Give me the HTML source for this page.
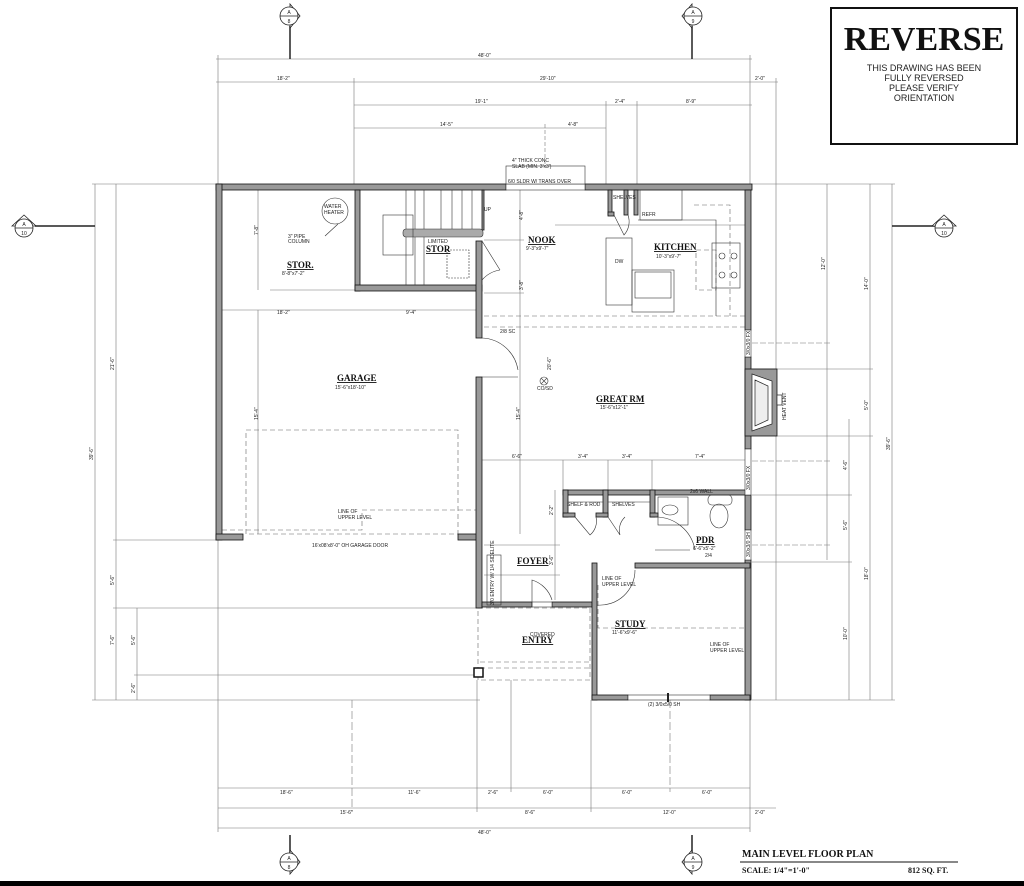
<!DOCTYPE html>
<html><head><meta charset="utf-8"><style>
html,body{margin:0;padding:0;background:#fff}
svg{display:block}
text{font-family:"Liberation Sans",sans-serif;fill:#222}
.d{font-size:5px}
.t{font-family:"Liberation Serif",serif;font-weight:bold;text-decoration:underline;font-size:9px;fill:#111}
.s{font-size:5px}
</style></head><body>
<svg width="1024" height="886" viewBox="0 0 1024 886" xmlns="http://www.w3.org/2000/svg">
<g stroke="#777" stroke-width="0.6" fill="none">
<!-- top dim lines -->
<line x1="216" y1="59" x2="752" y2="59"/>
<line x1="216" y1="82" x2="752" y2="82"/><line x1="752" y1="82" x2="778" y2="82"/>
<line x1="354" y1="105" x2="752" y2="105"/>
<line x1="354" y1="128" x2="606" y2="128"/>
<line x1="218" y1="55" x2="218" y2="184"/>
<line x1="354" y1="78" x2="354" y2="184"/>
<line x1="606" y1="101" x2="606" y2="184"/>
<line x1="637" y1="101" x2="637" y2="184"/>
<line x1="750" y1="55" x2="750" y2="184"/>
<line x1="776" y1="78" x2="776" y2="700"/>
<line x1="545" y1="124" x2="545" y2="184" stroke-dasharray="4,2"/>
<!-- left dims -->
<line x1="95" y1="184" x2="95" y2="700"/>
<line x1="116" y1="184" x2="116" y2="700"/>
<line x1="137" y1="608" x2="137" y2="700"/>
<line x1="92" y1="184" x2="216" y2="184"/>
<line x1="113" y1="540" x2="216" y2="540"/>
<line x1="113" y1="608" x2="480" y2="608"/>
<line x1="134" y1="675" x2="480" y2="675"/>
<line x1="92" y1="700" x2="480" y2="700"/>
<!-- right dims -->
<line x1="827" y1="184" x2="827" y2="560"/>
<line x1="849" y1="419" x2="849" y2="700"/>
<line x1="870" y1="184" x2="870" y2="700"/>
<line x1="892" y1="184" x2="892" y2="700"/>
<line x1="752" y1="184" x2="895" y2="184"/>
<line x1="752" y1="369" x2="873" y2="369"/>
<line x1="777" y1="436" x2="873" y2="436"/>
<line x1="752" y1="495" x2="852" y2="495"/>
<line x1="752" y1="562" x2="852" y2="562"/>
<line x1="752" y1="700" x2="895" y2="700"/>
<line x1="752" y1="343" x2="830" y2="343" stroke-dasharray="6,2"/>
<line x1="752" y1="461" x2="830" y2="461" stroke-dasharray="6,2"/>
<line x1="752" y1="545" x2="830" y2="545" stroke-dasharray="6,2"/>
<!-- bottom dims -->
<line x1="218" y1="788" x2="750" y2="788"/>
<line x1="218" y1="808" x2="750" y2="808"/><line x1="750" y1="808" x2="776" y2="808"/>
<line x1="218" y1="828" x2="750" y2="828"/>
<line x1="218" y1="540" x2="218" y2="832"/>
<line x1="352" y1="700" x2="352" y2="812" stroke-dasharray="8,3"/>
<line x1="477" y1="680" x2="477" y2="812"/>
<line x1="511" y1="680" x2="511" y2="792"/>
<line x1="591" y1="700" x2="591" y2="812"/>
<line x1="670" y1="700" x2="670" y2="792" stroke-dasharray="8,3"/>
<line x1="750" y1="700" x2="750" y2="832"/>
<!-- interior dims -->
<line x1="222" y1="310" x2="478" y2="310"/>
<line x1="270" y1="290" x2="355" y2="290"/>
<line x1="258" y1="190" x2="258" y2="290"/>
<line x1="258" y1="310" x2="258" y2="534"/>
<line x1="520" y1="190" x2="520" y2="534"/>
<line x1="484" y1="240" x2="524" y2="240"/>
<line x1="484" y1="293" x2="524" y2="293"/>
<line x1="555" y1="225" x2="745" y2="225"/>
<line x1="480" y1="460" x2="745" y2="460"/>
<line x1="563" y1="460" x2="563" y2="490"/><line x1="608" y1="460" x2="608" y2="490"/><line x1="652" y1="460" x2="652" y2="490"/>
<line x1="555" y1="490" x2="555" y2="600"/>
<line x1="484" y1="545" x2="560" y2="545"/>
<line x1="484" y1="575" x2="560" y2="575"/>
</g>
<!-- dashed upper level lines -->
<g stroke="#666" stroke-width="0.6" fill="none" stroke-dasharray="5,3">
<rect x="246" y="430" width="212" height="104"/>
<polyline points="222,530 362,530 362,510 476,510"/>
<line x1="484" y1="316" x2="745" y2="316"/>
<line x1="484" y1="327" x2="745" y2="327"/>
<polyline points="598,585 598,628 745,628"/>
<rect x="478" y="608" width="112" height="72"/>
<line x1="480" y1="662" x2="590" y2="662"/>
<line x1="480" y1="668" x2="590" y2="668"/>
<polyline points="694,205 730,205 730,316"/>
<rect x="696" y="250" width="20" height="40"/>
</g>
<!-- walls -->
<g fill="#999" stroke="#111" stroke-width="0.8">
<rect x="216" y="184" width="290" height="6"/>
<rect x="585" y="184" width="167" height="6"/>
<rect x="216" y="184" width="6" height="356"/>
<rect x="216" y="534" width="27" height="6"/>
<rect x="458" y="534" width="22" height="6"/>
<rect x="355" y="190" width="5" height="101"/>
<rect x="355" y="285" width="127" height="6"/>
<rect x="476" y="241" width="6" height="97"/>
<rect x="476" y="377" width="6" height="231"/>
<rect x="745" y="190" width="6" height="140"/>
<rect x="745" y="357" width="6" height="92"/>
<rect x="745" y="495" width="6" height="35"/>
<rect x="745" y="560" width="6" height="140"/>
<rect x="745" y="369" width="32" height="67"/>
<rect x="482" y="602" width="50" height="5"/>
<rect x="552" y="602" width="40" height="5"/>
<rect x="592" y="563" width="5" height="137"/>
<rect x="635" y="563" width="115" height="5"/>
<rect x="592" y="695" width="36" height="5"/>
<rect x="710" y="695" width="40" height="5"/>
<rect x="563" y="490" width="187" height="5"/>
<rect x="563" y="490" width="5" height="27"/>
<rect x="603" y="490" width="5" height="27"/>
<rect x="650" y="490" width="5" height="27"/>
<rect x="563" y="513" width="12" height="4"/>
<rect x="596" y="513" width="12" height="4"/>
<rect x="650" y="513" width="8" height="4"/>
<rect x="608" y="190" width="4" height="25"/>
<rect x="624" y="190" width="4" height="25"/>
<rect x="634" y="190" width="4" height="25"/>
<rect x="608" y="212" width="6" height="4"/>
<rect x="482" y="190" width="2" height="40"/>
</g>
<!-- fireplace -->
<g fill="#fff" stroke="#222" stroke-width="0.7">
<polygon points="752,374 772,381 772,424 752,431"/>
<polygon points="755,380 768,386 768,420 755,426" fill="#eee"/>
<rect x="777" y="395" width="5" height="10"/>
</g>
<!-- windows -->
<g fill="#fff" stroke="#333" stroke-width="0.6">
<rect x="745" y="330" width="6" height="27"/><rect x="745" y="449" width="6" height="46"/><rect x="745" y="530" width="6" height="30"/>
<rect x="628" y="695" width="82" height="5"/><rect x="532" y="602" width="20" height="5"/>
<rect x="506" y="184" width="79" height="6"/>
<rect x="506" y="166" width="79" height="18"/>
</g>
<line x1="668" y1="693" x2="668" y2="702" stroke="#222" stroke-width="2"/>
<!-- stairs -->
<g stroke="#333" stroke-width="0.6" fill="none">
<line x1="406" y1="190" x2="406" y2="285"/><line x1="415" y1="190" x2="415" y2="285"/><line x1="424" y1="190" x2="424" y2="285"/>
<line x1="441" y1="190" x2="441" y2="232"/><line x1="452" y1="190" x2="452" y2="232"/><line x1="462" y1="190" x2="462" y2="232"/><line x1="472" y1="190" x2="472" y2="232"/>
<rect x="403" y="229" width="80" height="8" rx="3" fill="#aaa"/>
<rect x="383" y="215" width="30" height="40"/>
<rect x="447" y="250" width="22" height="28" stroke-dasharray="2,1"/>
<path d="M482,241 L500,270 M500,270 A30,30 0 0 0 482,280"/>
<path d="M482,338 A38,38 0 0 1 518,370 M482,377 L518,377" />
<circle cx="335" cy="211" r="13"/>
<line x1="325" y1="236" x2="338" y2="224"/>
<circle cx="544" cy="381" r="4"/><path d="M541,378 L547,384 M547,378 L541,384"/>
<!-- kitchen -->
<rect x="640" y="190" width="42" height="30"/>
<polyline points="638,220 716,220 716,316"/>
<rect x="606" y="238" width="26" height="67"/>
<rect x="632" y="270" width="42" height="42"/>
<rect x="635" y="272" width="36" height="26"/>
<rect x="712" y="243" width="28" height="45"/>
<circle cx="722" cy="256" r="3"/><circle cx="734" cy="256" r="3"/><circle cx="722" cy="275" r="3"/><circle cx="734" cy="275" r="3"/>
<path d="M614,215 L624,235 A20,20 0 0 0 628,215"/>
<!-- PDR -->
<rect x="658" y="497" width="30" height="28"/>
<ellipse cx="670" cy="510" rx="8" ry="5"/>
<rect x="708" y="495" width="24" height="10" rx="4"/>
<ellipse cx="719" cy="516" rx="9" ry="12"/>
<line x1="568" y1="502" x2="603" y2="502"/><line x1="608" y1="502" x2="650" y2="502"/>
<path d="M575,517 L590,535 A18,18 0 0 0 596,517"/>
<path d="M608,517 L620,535 A18,18 0 0 1 625,517"/>
<path d="M655,517 A40,40 0 0 1 695,550 M655,550 L690,550"/>
<path d="M532,607 L532,580 A30,30 0 0 1 552,600" />
<path d="M597,570 L597,605 A35,35 0 0 0 635,570"/>
<rect x="487" y="555" width="14" height="50"/>
</g>
<rect x="474" y="668" width="9" height="9" fill="#fff" stroke="#111" stroke-width="1.5"/>
<!-- labels -->
<text class="t" x="287" y="268">STOR.</text><text class="s" x="282" y="275">8'-8"x7'-2"</text>
<text class="t" x="426" y="252">STOR</text><text class="s" x="428" y="243">LIMITED</text>
<text class="t" x="528" y="243">NOOK</text><text class="s" x="526" y="250">9'-3"x9'-7"</text>
<text class="t" x="654" y="250">KITCHEN</text><text class="s" x="656" y="258">10'-3"x9'-7"</text>
<text class="t" x="337" y="381">GARAGE</text><text class="s" x="335" y="389">15'-6"x18'-10"</text>
<text class="t" x="596" y="402">GREAT RM</text><text class="s" x="600" y="409">15'-6"x12'-1"</text>
<text class="t" x="696" y="543">PDR</text><text class="s" x="693" y="550">6'-6"x5'-2"</text>
<text class="t" x="517" y="564">FOYER</text>
<text class="t" x="522" y="643">ENTRY</text><text class="s" x="530" y="636">COVERED</text>
<text class="t" x="615" y="627">STUDY</text><text class="s" x="612" y="634">11'-6"x9'-6"</text>
<text class="s" x="324" y="208">WATER</text><text class="s" x="324" y="214">HEATER</text>
<text class="s" x="288" y="238">3" PIPE</text><text class="s" x="288" y="243">COLUMN</text>
<text class="s" x="512" y="162">4" THICK CONC</text><text class="s" x="512" y="168">SLAB (MIN. 3'x3')</text>
<text class="s" x="508" y="183">6/0 SLDR W/ TRANS OVER</text>
<text class="s" x="613" y="199">SHELVES</text><text class="s" x="642" y="216">REFR</text>
<text class="s" x="484" y="211">UP</text><text class="s" x="615" y="263">DW</text>
<text class="s" x="500" y="333">2/8 SC</text><text class="s" x="537" y="390">CO/SD</text>
<text class="s" x="567" y="506">SHELF &amp; ROD</text><text class="s" x="612" y="506">SHELVES</text>
<text class="s" x="690" y="493">2x6 WALL</text>
<text class="s" x="338" y="513">LINE OF</text><text class="s" x="338" y="519">UPPER LEVEL</text>
<text class="s" x="602" y="580">LINE OF</text><text class="s" x="602" y="586">UPPER LEVEL</text>
<text class="s" x="710" y="646">LINE OF</text><text class="s" x="710" y="652">UPPER LEVEL</text>
<text class="s" x="312" y="547">16'x08'x8'-0" OH GARAGE DOOR</text>
<text class="s" x="648" y="706">(2) 3/0x5/0 SH</text>
<text class="s" x="705" y="557">2/4</text>
<!-- dim labels -->
<text class="d" x="478" y="57">48'-0"</text>
<text class="d" x="277" y="80">18'-2"</text><text class="d" x="540" y="80">29'-10"</text><text class="d" x="755" y="80">2'-0"</text>
<text class="d" x="475" y="103">19'-1"</text><text class="d" x="615" y="103">2'-4"</text><text class="d" x="686" y="103">8'-9"</text>
<text class="d" x="440" y="126">14'-5"</text><text class="d" x="568" y="126">4'-8"</text>
<text class="d" x="277" y="314">18'-2"</text><text class="d" x="406" y="314">9'-4"</text>
<text class="d" x="512" y="458">6'-6"</text><text class="d" x="578" y="458">3'-4"</text><text class="d" x="622" y="458">3'-4"</text><text class="d" x="695" y="458">7'-4"</text>
<text class="d" x="280" y="794">18'-6"</text><text class="d" x="408" y="794">11'-6"</text><text class="d" x="488" y="794">2'-6"</text><text class="d" x="543" y="794">6'-0"</text><text class="d" x="622" y="794">6'-0"</text><text class="d" x="702" y="794">6'-0"</text>
<text class="d" x="340" y="814">15'-6"</text><text class="d" x="525" y="814">8'-6"</text><text class="d" x="663" y="814">12'-0"</text><text class="d" x="755" y="814">2'-0"</text>
<text class="d" x="478" y="834">48'-0"</text>
<g class="d"><text transform="translate(93,460) rotate(-90)" class="d">39'-6"</text>
<text transform="translate(114,370) rotate(-90)" class="d">21'-6"</text>
<text transform="translate(114,585) rotate(-90)" class="d">5'-6"</text>
<text transform="translate(114,645) rotate(-90)" class="d">7'-6"</text>
<text transform="translate(135,645) rotate(-90)" class="d">5'-6"</text>
<text transform="translate(135,693) rotate(-90)" class="d">2'-6"</text>
<text transform="translate(825,270) rotate(-90)" class="d">12'-0"</text>
<text transform="translate(868,290) rotate(-90)" class="d">14'-0"</text>
<text transform="translate(868,410) rotate(-90)" class="d">5'-0"</text>
<text transform="translate(890,450) rotate(-90)" class="d">39'-6"</text>
<text transform="translate(847,470) rotate(-90)" class="d">4'-6"</text>
<text transform="translate(847,530) rotate(-90)" class="d">5'-6"</text>
<text transform="translate(868,580) rotate(-90)" class="d">18'-0"</text>
<text transform="translate(847,640) rotate(-90)" class="d">10'-0"</text>
<text transform="translate(258,235) rotate(-90)" class="d">7'-8"</text>
<text transform="translate(258,420) rotate(-90)" class="d">15'-4"</text>
<text transform="translate(523,290) rotate(-90)" class="d">3'-8"</text>
<text transform="translate(523,220) rotate(-90)" class="d">4'-8"</text>
<text transform="translate(551,370) rotate(-90)" class="d">20'-6"</text>
<text transform="translate(520,420) rotate(-90)" class="d">15'-4"</text>
<text transform="translate(553,515) rotate(-90)" class="d">2'-2"</text>
<text transform="translate(553,565) rotate(-90)" class="d">3'-6"</text>
<text transform="translate(494,605) rotate(-90)" class="d">3/0 ENTRY W/ 1/4 SIDELITE</text>
<text transform="translate(750,355) rotate(-90)" class="d">3/0x3/0 FX</text>
<text transform="translate(750,490) rotate(-90)" class="d">3/0x3/0 FX</text>
<text transform="translate(750,557) rotate(-90)" class="d">3/0x3/0 SH</text>
<text transform="translate(786,420) rotate(-90)" class="d">HEAT VENT</text>
</g>
<!-- section markers -->
<g stroke="#222" stroke-width="0.8" fill="#fff">
<line x1="290" y1="26" x2="290" y2="59" stroke-width="1.5"/>
<line x1="692" y1="26" x2="692" y2="59" stroke-width="1.5"/>
<line x1="290" y1="835" x2="290" y2="860" stroke-width="1.5"/>
<line x1="692" y1="835" x2="692" y2="860" stroke-width="1.5"/>
<line x1="35" y1="226" x2="95" y2="226" stroke-width="1.5"/>
<line x1="892" y1="226" x2="935" y2="226" stroke-width="1.5"/>
<polygon points="290,2 302,16 290,30 278,16" stroke="none" fill="none"/>
<path d="M290,4 L300,16 L290,28 Z"/><circle cx="289" cy="16" r="9"/>
<path d="M692,4 L682,16 L692,28 Z"/><circle cx="693" cy="16" r="9"/>
<path d="M290,850 L300,862 L290,874 Z"/><circle cx="289" cy="862" r="9"/>
<path d="M692,850 L682,862 L692,874 Z"/><circle cx="693" cy="862" r="9"/>
<path d="M12,226 L24,215 L36,226 Z"/><circle cx="24" cy="228" r="9"/>
<path d="M932,226 L944,215 L956,226 Z"/><circle cx="944" cy="228" r="9"/>
<line x1="280" y1="16" x2="298" y2="16"/><line x1="684" y1="16" x2="702" y2="16"/>
<line x1="280" y1="862" x2="298" y2="862"/><line x1="684" y1="862" x2="702" y2="862"/>
<line x1="15" y1="228" x2="33" y2="228"/><line x1="935" y1="228" x2="953" y2="228"/>
</g>
<g font-size="5" text-anchor="middle">
<text x="289" y="14">A</text><text x="289" y="23">8</text>
<text x="693" y="14">A</text><text x="693" y="23">9</text>
<text x="289" y="860">A</text><text x="289" y="869">8</text>
<text x="693" y="860">A</text><text x="693" y="869">9</text>
<text x="24" y="226">A</text><text x="24" y="235">10</text>
<text x="944" y="226">A</text><text x="944" y="235">10</text>
</g>
<!-- REVERSE box -->
<rect x="831" y="8" width="186" height="136" fill="#fff" stroke="#111" stroke-width="2"/>
<text x="924" y="50" text-anchor="middle" style="font-family:'Liberation Serif',serif;font-weight:bold;font-size:34px;fill:#111">REVERSE</text>
<g text-anchor="middle" font-size="9"><text x="924" y="71">THIS DRAWING HAS BEEN</text><text x="924" y="81">FULLY REVERSED</text><text x="924" y="91">PLEASE VERIFY</text><text x="924" y="101">ORIENTATION</text></g>
<!-- title -->
<text x="742" y="857" style="font-family:'Liberation Serif',serif;font-weight:bold;font-size:10px;fill:#111">MAIN LEVEL FLOOR PLAN</text>
<rect x="740" y="861" width="218" height="2" fill="#888"/>
<text x="742" y="873" style="font-family:'Liberation Serif',serif;font-weight:bold;font-size:8px;fill:#111">SCALE: 1/4"=1'-0"</text>
<text x="908" y="873" style="font-family:'Liberation Serif',serif;font-weight:bold;font-size:8px;fill:#111">812 SQ. FT.</text>
<rect x="0" y="881" width="1024" height="5" fill="#000"/>
</svg>
</body></html>
